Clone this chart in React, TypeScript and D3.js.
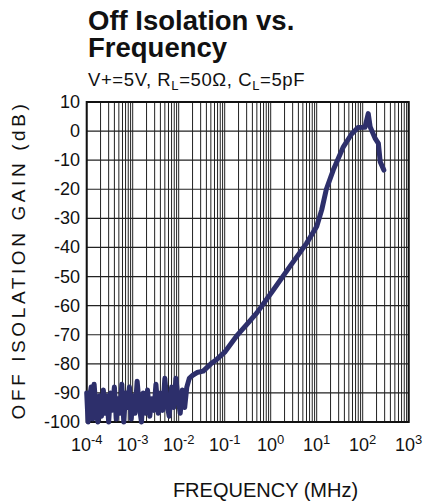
import React from 'react';
import * as d3 from 'd3';

// 周波数 (MHz) と オフアイソレーション (dB)
const freqMHz = [
  1.0e-4, 1.07e-4, 1.15e-4, 1.25e-4, 1.35e-4, 1.45e-4, 1.6e-4, 1.75e-4, 1.9e-4, 2.1e-4,
  2.3e-4, 2.5e-4, 2.75e-4, 3.0e-4, 3.3e-4, 3.6e-4, 4.0e-4, 4.4e-4, 4.8e-4, 5.3e-4,
  5.8e-4, 6.4e-4, 7.0e-4, 7.7e-4, 8.5e-4, 9.3e-4, 1.02e-3, 1.12e-3, 1.25e-3, 1.4e-3,
  1.55e-3, 1.7e-3, 1.9e-3, 2.1e-3, 2.35e-3, 2.6e-3, 2.9e-3, 3.2e-3, 3.6e-3, 4.0e-3,
  4.5e-3, 5.0e-3, 5.6e-3, 6.2e-3, 7.0e-3, 7.8e-3, 8.7e-3, 9.7e-3, 1.08e-2, 1.2e-2,
  1.35e-2, 1.5e-2, 1.7e-2, 2.0e-2, 2.5e-2, 3.4e-2, 5.0e-2, 6.7e-2, 0.1, 0.18,
  0.3, 0.5, 1.14, 2.6, 6, 10, 12.9, 16.2, 22.9, 38,
  57.5, 79, 112, 132, 145, 186, 219, 240, 288,
];
const gainDb = [
  -90, -100, -92, -88, -99, -87, -96, -100, -91, -98,
  -89, -97, -91, -100, -90, -96, -88, -99, -92, -97,
  -87, -100, -90, -95, -88, -99, -91, -97, -86, -95,
  -100, -90, -97, -89, -98, -92, -96, -87, -97, -90,
  -96, -85, -94, -98, -88, -95, -85, -92, -97, -89,
  -95, -88, -85, -84, -83, -82.5, -80, -78.5, -76, -70.5,
  -66.5, -62.5, -54.6, -46.6, -38.6, -32.8, -27, -20, -13.4, -5.4,
  -1, 1.2, 1.3, 6, 1.5, -2.5, -4.2, -10.5, -13.4,
];

const xTickExponents = [-4, -3, -2, -1, 0, 1, 2, 3];
const yTickValues = [-100, -90, -80, -70, -60, -50, -40, -30, -20, -10, 0, 10];

const W = 440;
const H = 504;
const plot = { left: 86.7, right: 408.7, top: 102, bottom: 422 };
const font = '"Liberation Sans", Arial, Helvetica, sans-serif';

const App: React.FC = () => {
  const x = d3.scaleLog().domain([1e-4, 1e3]).range([plot.left, plot.right]);
  const y = d3.scaleLinear().domain([-100, 10]).range([plot.bottom, plot.top]);

  const points = freqMHz.map((f, i) => [f, gainDb[i]] as [number, number]);
  const line = d3
    .line<[number, number]>()
    .x((d) => x(d[0]))
    .y((d) => y(d[1]));

  const minorTicks = x.ticks();

  return (
    <svg
      width={W}
      height={H}
      style={{ position: 'absolute', left: 0, top: 0, background: '#fff' }}
      fontFamily={font}
    >
      {/* タイトル */}
      <text x={88} y={30} fontSize={27.5} fontWeight="bold" fill="#111">
        Off Isolation vs.
      </text>
      <text x={88} y={57} fontSize={27.5} fontWeight="bold" fill="#111">
        Frequency
      </text>
      <text x={88} y={86} fontSize={18.5} fill="#111" letterSpacing={0.6}>
        V+=5V, R<tspan fontSize={13} dy={4}>L</tspan>
        <tspan dy={-4}>=50Ω, C</tspan>
        <tspan fontSize={13} dy={4}>L</tspan>
        <tspan dy={-4}>=5pF</tspan>
      </text>

      {/* グリッド */}
      {minorTicks.map((t, i) => (
        <line
          key={'v' + i}
          x1={x(t)}
          x2={x(t)}
          y1={plot.top}
          y2={plot.bottom}
          stroke="#222"
          strokeWidth={1}
        />
      ))}
      {yTickValues.map((v) => (
        <line
          key={'h' + v}
          x1={plot.left}
          x2={plot.right}
          y1={y(v)}
          y2={y(v)}
          stroke="#222"
          strokeWidth={1.2}
        />
      ))}
      <rect
        x={plot.left}
        y={plot.top}
        width={plot.right - plot.left}
        height={plot.bottom - plot.top}
        fill="none"
        stroke="#111"
        strokeWidth={2}
      />

      {/* 曲線 */}
      <path
        d={line(points) ?? ''}
        fill="none"
        stroke="#2d2f6b"
        strokeWidth={5}
        strokeLinejoin="round"
        strokeLinecap="round"
      />

      {/* Y軸ラベル */}
      {yTickValues.map((v) => (
        <text key={'yl' + v} x={80} y={y(v) + 6} fontSize={18} textAnchor="end" fill="#111">
          {v}
        </text>
      ))}
      <text
        transform={`translate(25,${(plot.top + plot.bottom) / 2 - 2}) rotate(-90)`}
        fontSize={19}
        textAnchor="middle"
        fill="#111"
        letterSpacing={3.6}
      >
        OFF ISOLATION GAIN (dB)
      </text>

      {/* X軸ラベル */}
      {xTickExponents.map((e) => (
        <text key={'xl' + e} x={x(Math.pow(10, e))} y={451} fontSize={18} textAnchor="middle" fill="#111">
          10<tspan fontSize={13} dy={-7}>{e}</tspan>
        </text>
      ))}
      <text x={265.5} y={497} fontSize={20} textAnchor="middle" fill="#111">
        FREQUENCY (MHz)
      </text>
    </svg>
  );
};

export default App;
